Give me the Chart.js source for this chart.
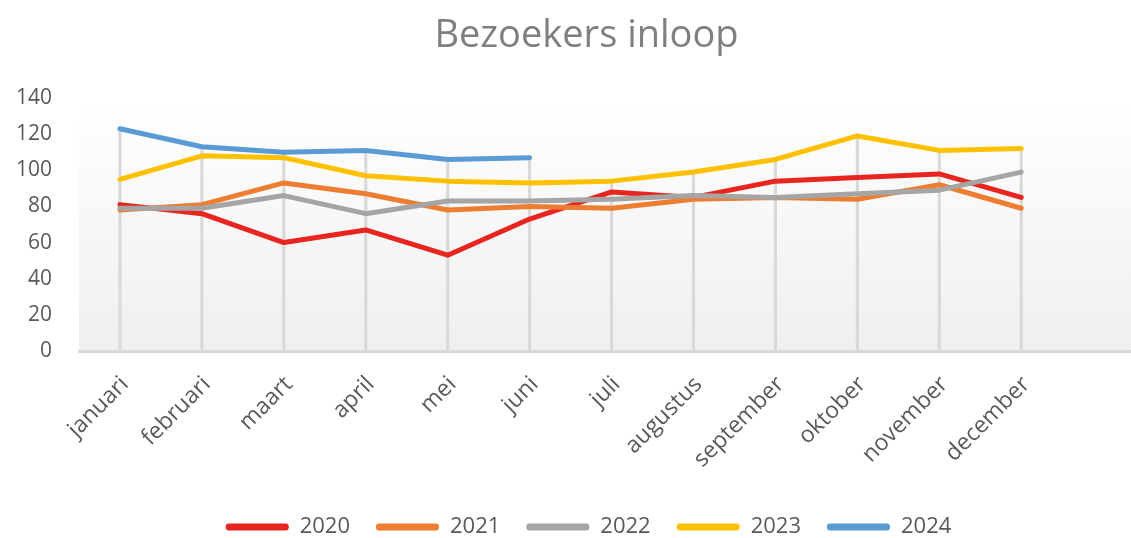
<!DOCTYPE html>
<html>
<head>
<meta charset="utf-8">
<script src="https://cdn.jsdelivr.net/npm/chart.js@4.4.1/dist/chart.umd.min.js"></script>
<style>
  html, body { margin: 0; padding: 0; background: #ffffff; overflow: hidden; }
  #wrap { position: relative; width: 1131px; height: 538px; }
</style>
</head>
<body>
<div id="wrap"><canvas id="c"></canvas></div>
<script>
const titleText = 'Bezoekers inloop';
const months = ['januari','februari','maart','april','mei','juni','juli','augustus','september','oktober','november','december'];
const years = ['2020','2021','2022','2023','2024'];
const v2020 = [81, 76, 60, 67, 53, 73, 88, 85, 94, 96, 98, 85];
const v2021 = [78, 81, 93, 87, 78, 80, 79, 84, 85, 84, 92, 79];
const v2022 = [79, 79, 86, 76, 83, 83, 84, 86, 85, 87, 89, 99];
const v2023 = [95, 108, 107, 97, 94, 93, 94, 99, 106, 119, 111, 112];
const v2024 = [123, 113, 110, 111, 106, 107];
const yTicks = [0, 20, 40, 60, 80, 100, 120, 140];

const seriesList = [v2020, v2021, v2022, v2023, v2024];
const colors = ['#E8251E', '#ED7D31', '#A5A5A5', '#FFC000', '#5B9BD5'];

const toPoints = arr => arr.map((y, i) => ({x: i, y: y}));
const dropMax = months.map((m, i) => {
  const vals = seriesList.map(s => s[i]).filter(v => v !== undefined && v !== null);
  return {x: i, y: Math.max(...vals)};
});

const lineSets = seriesList.map((s, k) => ({
  type: 'line',
  label: years[k],
  data: toPoints(s),
  borderColor: colors[k],
  backgroundColor: colors[k],
  borderWidth: 5,
  pointRadius: 0,
  pointHoverRadius: 0,
  tension: 0,
  fill: false,
  borderCapStyle: 'round',
  borderJoinStyle: 'round',
  order: 5 - k
}));

const dropSet = {
  type: 'bar',
  label: '_drop',
  data: dropMax,
  backgroundColor: '#d9d9d9',
  borderWidth: 0,
  barThickness: 2.5,
  order: 20
};

const bgPlugin = {
  id: 'plotBg',
  beforeDraw(chart) {
    const {ctx, chartArea: a} = chart;
    const g = ctx.createLinearGradient(0, a.top, 0, a.bottom);
    g.addColorStop(0, '#ffffff');
    g.addColorStop(1, '#efefef');
    ctx.save();
    ctx.fillStyle = g;
    ctx.fillRect(a.left, a.top, a.right - a.left, a.bottom - a.top);
    ctx.restore();
  }
};

const boxShift = {
  id: 'boxShift',
  afterLayout(chart) {
    if (chart.legend) {
      chart.legend.left += 23;
      chart.legend.right += 23;
    }
    if (chart.titleBlock) {
      chart.titleBlock.left += 21;
      chart.titleBlock.right += 21;
    }
  }
};

new Chart(document.getElementById('c'), {
  type: 'line',
  data: { datasets: [...lineSets, dropSet] },
  plugins: [bgPlugin, boxShift],
  options: {
    responsive: true,
    maintainAspectRatio: false,
    animation: false,
    events: [],
    layout: { padding: { top: 0, left: 0, right: 0, bottom: -10 } },
    plugins: {
      tooltip: { enabled: false },
      title: {
        display: true,
        text: titleText,
        color: '#7f7f7f',
        font: { family: 'Open Sans', size: 38, weight: 'normal', lineHeight: 1.2 },
        padding: { top: 13, bottom: 39.4 }
      },
      legend: {
        position: 'bottom',
        align: 'center',
        labels: {
          color: '#595959',
          font: { family: 'Open Sans', size: 22 },
          boxWidth: 63,
          boxHeight: 7,
          padding: 26,
          filter: item => item.text !== '_drop',
          sort: (a, b) => a.datasetIndex - b.datasetIndex,
          generateLabels(chart) {
            const items = Chart.defaults.plugins.legend.labels.generateLabels(chart);
            return items.map(it => Object.assign(it, { lineWidth: 0, borderRadius: 3 }));
          }
        }
      }
    },
    scales: {
      x: {
        type: 'linear',
        min: -0.5,
        max: 12.34,
        offset: false,
        afterBuildTicks(scale) { scale.ticks = months.map((m, i) => ({ value: i })); },
        afterFit(scale) { scale.height = 139; },
        ticks: {
          autoSkip: false,
          minRotation: 45,
          maxRotation: 45,
          padding: 20,
          labelOffset: 5,
          color: '#595959',
          font: { family: 'Open Sans', size: 23 },
          callback: v => months[v] !== undefined ? months[v] : ''
        },
        grid: { display: false, drawTicks: false },
        border: { display: true, color: '#d9d9d9', width: 3 }
      },
      y: {
        min: 0,
        max: 140,
        afterBuildTicks(scale) { scale.ticks = yTicks.map(v => ({ value: v })); },
        afterFit(scale) { scale.width = 79; },
        ticks: {
          padding: 27,
          color: '#595959',
          font: { family: 'Open Sans', size: 21 }
        },
        grid: { display: false, drawTicks: false },
        border: { display: false }
      }
    }
  }
});
</script>
</body>
</html>
